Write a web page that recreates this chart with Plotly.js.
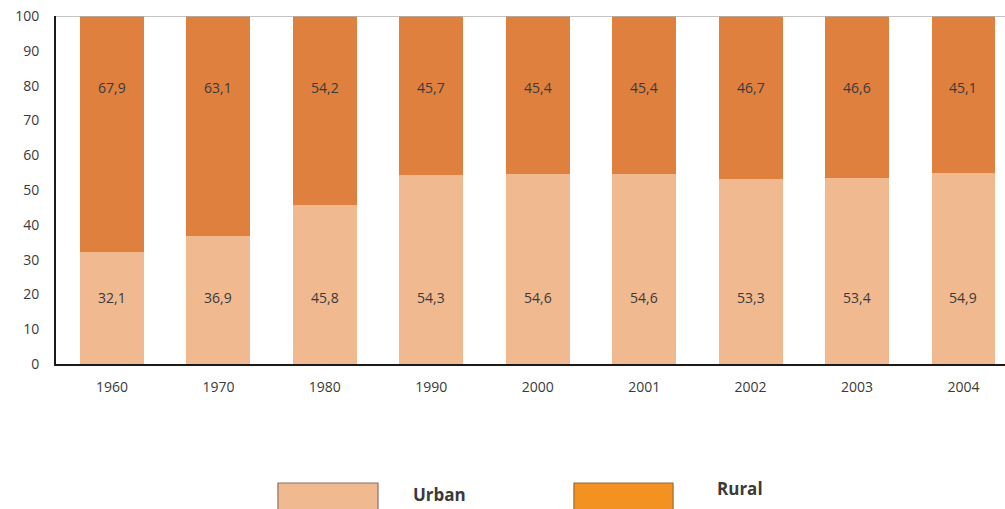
<!DOCTYPE html>
<html>
<head>
<meta charset="utf-8">
<script src="https://cdn.plot.ly/plotly-3.0.1.min.js"></script>
<style>html,body{margin:0;padding:0;background:#fff;}#chart{width:1005px;height:509px;}</style>
</head>
<body>
<div id="chart"></div>
<script>
const years = ['1960','1970','1980','1990','2000','2001','2002','2003','2004'];
const urban = [32.1, 36.9, 45.8, 54.3, 54.6, 54.6, 53.3, 53.4, 54.9];
const rural = [67.9, 63.1, 54.2, 45.7, 45.4, 45.4, 46.7, 46.6, 45.1];

const pos = years.map((_, i) => i);
const fmt = v => v.toFixed(1).replace('.', ',');
const fam = 'Open Sans, Liberation Sans, sans-serif';
const labelFont = {family: fam, size: 14, color: '#3a3a3a'};

const traces = [
  {type: 'bar', name: 'Urban', x: pos, y: urban, width: 0.6,
   marker: {color: '#F0B990', line: {width: 0}}, hoverinfo: 'skip'},
  {type: 'bar', name: 'Rural', x: pos, y: rural, width: 0.6,
   marker: {color: '#E0803E', line: {width: 0}}, hoverinfo: 'skip'}
];

const annotations = [];
pos.forEach((p, i) => {
  annotations.push({x: p, y: 19, xref: 'x', yref: 'y', text: fmt(urban[i]), showarrow: false,
    xanchor: 'center', yanchor: 'middle', font: labelFont});
  annotations.push({x: p, y: 79.5, xref: 'x', yref: 'y', text: fmt(rural[i]), showarrow: false,
    xanchor: 'center', yanchor: 'middle', font: labelFont});
});
const legFont = {family: fam, size: 17, color: '#3a3a3a'};
annotations.push({x: 0.4046, y: -0.3736, xref: 'paper', yref: 'paper', text: '<b>Urban</b>', showarrow: false,
  xanchor: 'center', yanchor: 'middle', font: legFont});
annotations.push({x: 0.7208, y: -0.359, xref: 'paper', yref: 'paper', text: '<b>Rural</b>', showarrow: false,
  xanchor: 'center', yanchor: 'middle', font: legFont});

const shapes = [
  {type: 'rect', xref: 'paper', yref: 'paper', x0: 0.2339, x1: 0.3393, y0: -0.44, y1: -0.342,
   fillcolor: '#F0B990', line: {color: '#8a7060', width: 1.2}},
  {type: 'rect', xref: 'paper', yref: 'paper', x0: 0.5458, x1: 0.6502, y0: -0.44, y1: -0.342,
   fillcolor: '#F39220', line: {color: '#9a6a30', width: 1.2}},
  {type: 'line', xref: 'paper', yref: 'y', x0: 0, x1: 1, y0: 100, y1: 100,
   line: {color: '#b0b0b0', width: 1.5}}
];

const layout = {
  width: 1005, height: 509,
  margin: {l: 56, r: 0, t: 16, b: 145},
  paper_bgcolor: '#ffffff', plot_bgcolor: '#ffffff',
  barmode: 'stack',
  showlegend: false,
  xaxis: {
    range: [-0.526, 8.39], tickvals: pos, ticktext: years,
    showgrid: false, zeroline: false, showline: true, linecolor: '#1a1a1a', linewidth: 2,
    ticks: '', ticklabelstandoff: 9,
    tickfont: {family: fam, size: 14, color: '#3a3a3a'},
    fixedrange: true
  },
  yaxis: {
    range: [0, 100], dtick: 10, showgrid: false, zeroline: false,
    showline: true, linecolor: '#1a1a1a', linewidth: 2, ticks: '',
    ticklabelstandoff: 12,
    tickfont: {family: fam, size: 14, color: '#3a3a3a'},
    fixedrange: true
  },
  annotations: annotations,
  shapes: shapes
};

Plotly.newPlot('chart', traces, layout, {displayModeBar: false, staticPlot: true});
</script>
</body>
</html>
